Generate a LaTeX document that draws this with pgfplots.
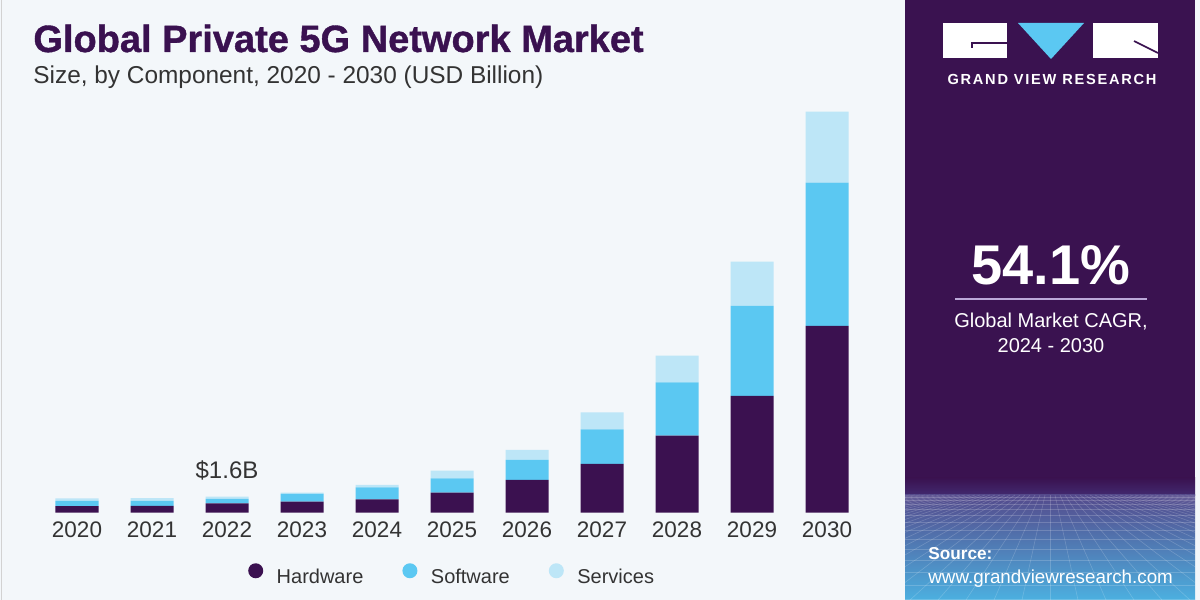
\documentclass[border=0pt]{standalone}
\usepackage{fontspec}
\setmainfont{Liberation Sans}
\usepackage{pgfplots}
\usepackage{pgfplotstable}
\pgfplotsset{compat=1.18}
\definecolor{hw}{HTML}{3B1150}
\definecolor{sw}{HTML}{5BC8F2}
\definecolor{sv}{HTML}{BDE6F7}
\definecolor{bg}{HTML}{F3F7FA}
\definecolor{panel}{HTML}{3A1250}
\definecolor{txt}{HTML}{333333}
\definecolor{titlec}{HTML}{3A1150}
\definecolor{lav}{HTML}{BBA8D8}
\newfontfamily\gvrfont{Liberation Sans}[LetterSpace=12]
\newfontfamily\titlefont{Liberation Sans Bold}[FakeBold=1]

\pgfplotstableread{
x hw sw sv
0 0.67 0.50 0.27
1 0.68 0.50 0.27
2 0.94 0.43 0.23
3 1.10 0.78 0.12
4 1.34 1.20 0.23
5 2.00 1.44 0.76
6 3.27 2.00 1.00
7 4.87 3.47 1.70
8 7.70 5.33 2.67
9 11.67 9.00 4.43
10 18.67 14.33 7.10
}\datatable

\begin{document}
\begin{tikzpicture}
\useasboundingbox (0,0) rectangle (600pt,300pt);
\fill[bg] (0,0) rectangle (600pt,300pt);
\begin{scope}[shift={(0pt,300pt)}, x=0.5pt, y=-0.5pt]
  \draw[gray!35, line width=0.6pt] (1.5,0) -- (1.5,600);
  % panel
  \fill[panel] (905,0) rectangle (1195,600);
  \shade[top color=panel, bottom color={rgb,255:red,66;green,42;blue,112}] (905,478) rectangle (1195,495.5);
  \shade[top color={rgb,255:red,84;green,74;blue,140}, middle color={rgb,255:red,72;green,108;blue,178}, bottom color={rgb,255:red,76;green,176;blue,224}] (905,495) rectangle (1195,600);
  \begin{scope}
    \clip (905,495) rectangle (1195,600);
    \foreach \k in {-40,...,40} \draw[white, opacity=0.18, line width=0.3pt] ({1050+\k*5},495) -- ({1050+\k*28},600);
    \foreach \yy in {497,500,504,509,515,522,530,539,549,560,572,585,599} \draw[white, opacity=0.18, line width=0.3pt] (905,\yy) -- (1195,\yy);
  \end{scope}
  % logo
  \fill[white] (943,23) rectangle (1007,58);
  \fill[sw] (1018,23) -- (1084,23) -- (1051,59) -- cycle;
  \fill[white] (1093,23) rectangle (1158,58);
  \draw[panel, line width=0.8pt] (1007,43) -- (972,43) -- (972,48);
  \draw[panel, line width=0.8pt] (1134,41) -- (1158,53);
  \node[anchor=base, inner sep=0pt, text=white, font=\gvrfont\bfseries\fontsize{7.3}{9}\selectfont] at (1052,85) {GRAND VIEW RESEARCH};
  % CAGR
  \node[anchor=base, inner sep=0pt, text=white, font=\bfseries\fontsize{28}{32}\selectfont] at (1051,285) {54.1\%};
  \draw[lav, line width=1pt] (955,299) -- (1147,299);
  \node[anchor=base, inner sep=0pt, text=white, font=\fontsize{10}{12}\selectfont] at (1051,328) {Global Market CAGR,};
  \node[anchor=base, inner sep=0pt, text=white, font=\fontsize{10}{12}\selectfont] at (1051,353) {2024 - 2030};
  % source
  \node[anchor=base west, inner sep=0pt, text=white, font=\bfseries\fontsize{8.6}{10}\selectfont] at (928,560) {Source:};
  \node[anchor=base west, inner sep=0pt, text=white, font=\fontsize{9.4}{11}\selectfont] at (928,583) {www.grandviewresearch.com};
  % titles
  \node[anchor=base west, inner sep=0pt, text=titlec, font=\titlefont\fontsize{19}{22}\selectfont] at (33,52) {Global Private 5G Network Market};
  \node[anchor=base west, inner sep=0pt, text=txt, font=\fontsize{12.2}{14}\selectfont] at (33,84) {Size, by Component, 2020 - 2030 (USD Billion)};
\end{scope}

\begin{axis}[
  at={(16pt,43.65pt)}, anchor=south west,
  scale only axis, width=420pt, height=210pt,
  xmin=-0.6, xmax=10.6, ymin=0, ymax=42,
  ybar stacked, bar width=21.5pt,
  axis line style={draw=none}, tick style={draw=none},
  ytick=\empty,
  xtick={0,...,10},
  xticklabels={2020,2021,2022,2023,2024,2025,2026,2027,2028,2029,2030},
  xticklabel style={inner sep=0pt, yshift=-4.5pt, font=\fontsize{11.25}{13}\selectfont, text=txt},
  clip=false,
  legend columns=3,
  legend cell align=left,
  legend image code/.code={\fill[#1] (3.75pt,3.6pt) circle (3.75pt);},
  legend style={at={(0.2574,-0.1483)}, anchor=west, draw=none, fill=none,
    inner sep=0pt, outer sep=0pt, font=\fontsize{10}{12}\selectfont, text=txt,
    nodes={inner sep=0pt},
    /tikz/every odd column/.append style={column sep=6.75pt},
    /tikz/every even column/.append style={column sep=19.5pt}},
]
\addplot[fill=hw, draw=none] table[x=x, y=hw] {\datatable};
\addplot[fill=sw, draw=none] table[x=x, y=sw] {\datatable};
\addplot[fill=sv, draw=none] table[x=x, y=sv] {\datatable};
\legend{Hardware, Software, Services}
\node[anchor=base, inner sep=0pt, yshift=9.35pt, text=txt, font=\fontsize{12}{14}\selectfont] at (axis cs:2,1.6) {\$1.6B};
\end{axis}
\end{tikzpicture}
\end{document}
